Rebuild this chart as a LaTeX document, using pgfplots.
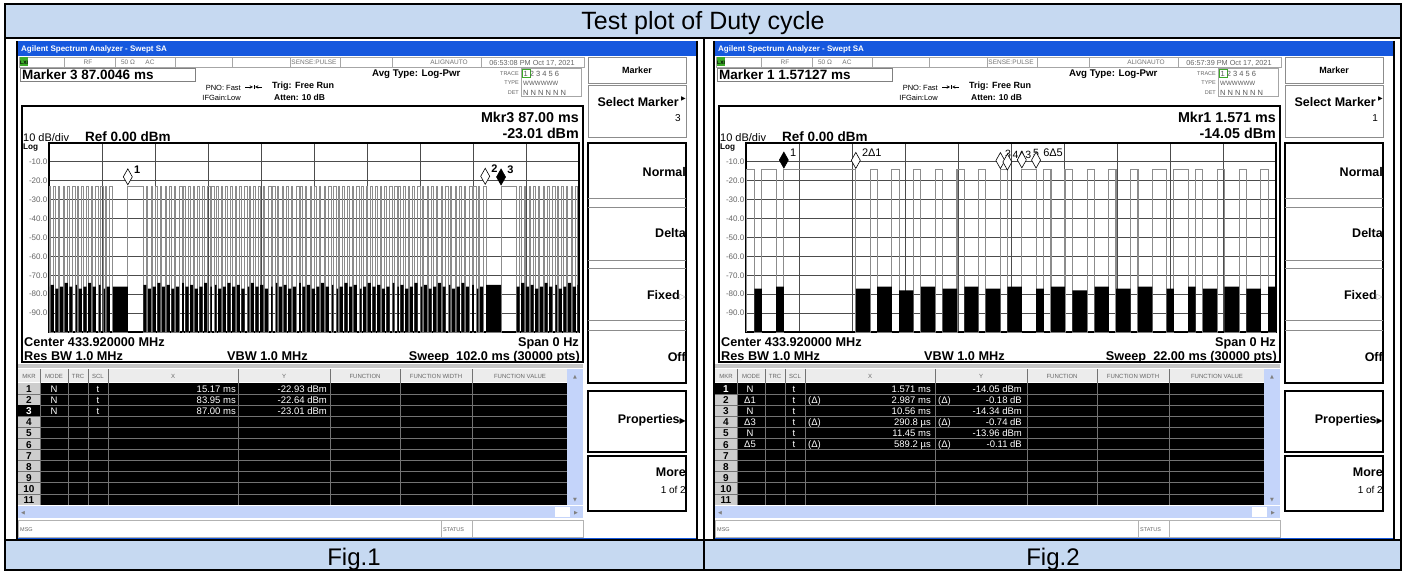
\documentclass[border=0pt]{standalone}
\usepackage{pgfplots}
\pgfplotsset{compat=1.18}
\usepackage{pgfplotstable}
\usepackage{fontspec}
\setmainfont{Liberation Sans}
\newfontfamily\dejavu{DejaVu Sans}
\newcommand{\fs}[1]{\fontsize{#1}{#1}\selectfont}
\definecolor{capblue}{RGB}{198,217,241}
\definecolor{xpblue}{RGB}{22,88,222}
\definecolor{sbblue}{RGB}{196,212,250}
\definecolor{hdrgray}{RGB}{236,236,236}
\definecolor{mkrgray}{RGB}{205,205,205}
\definecolor{lxigreen}{RGB}{60,170,40}

\pgfdeclareplotmark{mkr}{%
 \pgfpathmoveto{\pgfqpoint{0pt}{1.5pt}}%
 \pgfpathlineto{\pgfqpoint{4.5pt}{9.5pt}}%
 \pgfpathlineto{\pgfqpoint{0pt}{17.5pt}}%
 \pgfpathlineto{\pgfqpoint{-4.5pt}{9.5pt}}%
 \pgfpathclose\pgfusepathqfillstroke}

\tikzset{t/.style={inner sep=0pt, anchor=mid west},
 tr/.style={inner sep=0pt, anchor=mid east},
 tc/.style={inner sep=0pt, anchor=mid},
 fz/.style={font=\fs{#1}, yshift={(2.15-0.358*#1)*1pt}},
 fzb/.style={font=\fs{#1}\bfseries, yshift={(2.15-0.358*#1)*1pt}}}

\pgfplotsset{sa/.style={
  scale only axis, width=530pt, height=189pt, anchor=south west,
  ymin=-100, ymax=0,
  ytick={-90,-80,-70,-60,-50,-40,-30,-20,-10},
  yticklabels={-90.0,-80.0,-70.0,-60.0,-50.0,-40.0,-30.0,-20.0,-10.0},
  yticklabel style={font=\fs{8}, text=black!60, inner sep=1.5pt},
  xticklabels=\empty,
  major tick length=0pt,
  grid=major,
  major grid style={draw=black!70, line width=0.9pt},
  axis line style={line width=1.8pt},
 }}

% Fig.1 trace: t = time (ms), p = pulse level (dBm), n = noise-floor top (dBm)
\pgfplotstableread{
t p n
0.00 -100 -100
0.00 -100 -76
0.02 -23 -100
0.31 -100 -75
0.92 -23 -100
1.21 -100 -77
1.82 -23 -100
2.11 -100 -76
2.72 -23 -100
3.01 -100 -74
3.62 -23 -100
3.91 -100 -76
4.52 -23 -100
5.11 -100 -75
5.42 -23 -100
5.71 -100 -77
6.32 -23 -100
6.61 -100 -76
7.22 -23 -100
7.51 -100 -74
8.12 -23 -100
8.41 -100 -76
9.02 -23 -100
9.61 -100 -75
9.92 -23 -100
10.51 -100 -77
10.82 -23 -100
11.11 -100 -76
11.72 -23 -100
12.31 -100 -76
15.17 -23 -100
18.16 -100 -75
18.75 -23 -100
19.04 -100 -77
19.65 -23 -100
19.94 -100 -76
20.55 -23 -100
20.84 -100 -74
21.45 -23 -100
21.74 -100 -76
22.35 -23 -100
22.64 -100 -75
23.25 -23 -100
23.54 -100 -77
24.15 -23 -100
24.44 -100 -76
25.05 -23 -100
25.64 -100 -74
25.95 -23 -100
26.24 -100 -76
26.85 -23 -100
27.14 -100 -75
27.75 -23 -100
28.04 -100 -77
28.65 -23 -100
28.94 -100 -76
29.55 -23 -100
29.84 -100 -74
30.45 -23 -100
31.04 -100 -76
31.35 -23 -100
31.94 -100 -75
32.25 -23 -100
32.54 -100 -77
33.15 -23 -100
33.44 -100 -76
34.05 -23 -100
34.34 -100 -74
34.95 -23 -100
35.24 -100 -76
35.85 -23 -100
36.14 -100 -75
36.75 -23 -100
37.04 -100 -77
37.65 -23 -100
38.24 -100 -76
38.55 -23 -100
38.84 -100 -74
39.45 -23 -100
39.74 -100 -76
40.35 -23 -100
40.64 -100 -75
41.25 -23 -100
41.54 -100 -77
42.15 -23 -100
42.74 -100 -76
43.05 -23 -100
43.64 -100 -74
43.95 -23 -100
44.24 -100 -76
44.85 -23 -100
45.14 -100 -75
45.75 -23 -100
46.04 -100 -77
46.65 -23 -100
46.94 -100 -76
47.55 -23 -100
48.14 -100 -74
48.45 -23 -100
48.74 -100 -76
49.35 -23 -100
49.64 -100 -75
50.25 -23 -100
50.54 -100 -77
51.15 -23 -100
51.44 -100 -76
52.05 -23 -100
52.34 -100 -74
52.95 -23 -100
53.24 -100 -76
53.85 -23 -100
54.44 -100 -75
54.75 -23 -100
55.34 -100 -77
55.65 -23 -100
55.94 -100 -76
56.55 -23 -100
56.84 -100 -74
57.45 -23 -100
57.74 -100 -76
58.35 -23 -100
58.64 -100 -75
59.25 -23 -100
59.84 -100 -77
60.15 -23 -100
60.44 -100 -76
61.05 -23 -100
61.34 -100 -74
61.95 -23 -100
62.24 -100 -76
62.85 -23 -100
63.14 -100 -75
63.75 -23 -100
64.04 -100 -77
64.65 -23 -100
64.94 -100 -76
65.55 -23 -100
66.14 -100 -74
66.45 -23 -100
67.04 -100 -76
67.35 -23 -100
67.64 -100 -75
68.25 -23 -100
68.54 -100 -77
69.15 -23 -100
69.44 -100 -76
70.05 -23 -100
70.34 -100 -74
70.95 -23 -100
71.54 -100 -76
71.85 -23 -100
72.14 -100 -75
72.75 -23 -100
73.04 -100 -77
73.65 -23 -100
73.94 -100 -76
74.55 -23 -100
74.84 -100 -74
75.45 -23 -100
75.74 -100 -76
76.35 -23 -100
76.94 -100 -75
77.25 -23 -100
77.54 -100 -77
78.15 -23 -100
78.44 -100 -76
79.05 -23 -100
79.34 -100 -74
79.95 -23 -100
80.24 -100 -76
80.85 -23 -100
81.44 -100 -75
81.75 -23 -100
82.34 -100 -77
82.65 -23 -100
82.94 -100 -76
83.55 -23 -100
84.14 -100 -75
87.00 -23 -100
89.99 -100 -76
90.58 -23 -100
90.87 -100 -74
91.48 -23 -100
91.77 -100 -76
92.38 -23 -100
92.67 -100 -75
93.28 -23 -100
93.57 -100 -77
94.18 -23 -100
94.47 -100 -76
95.08 -23 -100
95.37 -100 -74
95.98 -23 -100
96.27 -100 -76
96.88 -23 -100
97.47 -100 -75
97.78 -23 -100
98.07 -100 -77
98.68 -23 -100
98.97 -100 -76
99.58 -23 -100
99.87 -100 -74
100.48 -23 -100
100.77 -100 -76
101.38 -23 -100
101.67 -100 -75
102.00 -100 -100
}\figA

% Fig.2 trace
\pgfplotstableread{
t p n
0.00 -100 -100
0.00 -14 -100
0.35 -100 -77
0.66 -14 -100
1.25 -100 -76
1.57 -14 -100
4.56 -100 -77
5.15 -14 -100
5.44 -100 -76
6.05 -14 -100
6.36 -100 -78
6.95 -14 -100
7.26 -100 -76
7.85 -14 -100
8.16 -100 -77
8.76 -14 -100
9.06 -100 -76
9.65 -14 -100
9.95 -100 -77
10.56 -14 -100
10.85 -100 -76
11.45 -14 -100
12.04 -100 -77
12.36 -14 -100
12.66 -100 -76
13.24 -14 -100
13.55 -100 -78
14.16 -14 -100
14.47 -100 -76
15.06 -14 -100
15.36 -100 -77
15.96 -14 -100
16.27 -100 -76
16.87 -14 -100
17.46 -100 -77
17.76 -14 -100
18.35 -100 -76
18.66 -14 -100
18.96 -100 -77
19.56 -14 -100
19.86 -100 -76
20.47 -14 -100
20.77 -100 -77
21.37 -14 -100
21.67 -100 -76
22.00 -100 -100
}\figB

\newcommand{\rowh}{11.09}

% common frame of one analyser screenshot (pixel coordinates, y downwards)
\newcommand{\panelframe}{%
 \fill[white] (17,41) rectangle (697,539);
 \fill[xpblue] (17,41) rectangle (697,56);
 \draw[line width=2pt] (17,41) -- (17,539);
 \draw[line width=2pt] (697,41) -- (697,539);
 \draw[xpblue, line width=1.5pt] (18,538.5) -- (696,538.5);
 % status row
 \draw[black!35, line width=0.5pt] (19,57) rectangle (584,67);
 \foreach \xx in {64,115,175,232,290,340,392,481}
   \draw[black!35, line width=0.5pt] (\xx,57) -- (\xx,67);
 \fill[lxigreen] (19.5,57.5) rectangle (28,66.5);
 \node[t, fzb=5] at (20,62) {LXI};
 \node[tc, fz=6.5, text=black!55] at (88,62) {RF};
 \node[tc, fz=6.5, text=black!55] at (128,62) {50 Ω};
 \node[tc, fz=6.5, text=black!55] at (150,62) {AC};
 \node[tc, fz=6.5, text=black!55] at (314,62) {SENSE:PULSE};
 \node[tc, fz=6.5, text=black!55] at (449,62) {ALIGNAUTO};
 % marker box
 \draw[black!50, line width=0.6pt] (20,68) rectangle (195,81);
 % header info
 \node[t, fzb=9.7] at (372,73) {Avg Type: Log-Pwr};
 \node[tr, fz=7.5] at (241,87) {PNO: Fast};
 \draw[line width=0.5pt, -stealth] (245,87) -- (253,87);
 \draw[line width=0.5pt, -stealth] (262,87) -- (255,87);
 \draw[line width=0.5pt] (254,85) -- (254,89);
 \node[tr, fz=7.5] at (241,97) {IFGain:Low};
 \node[t, fzb=9] at (272,85) {Trig: Free Run};
 \node[t, fzb=8.5] at (274,97) {Atten: 10 dB};
 \node[tr, fz=5.5, text=black!60] at (519,73) {TRACE};
 \node[tr, fz=5.5, text=black!60] at (519,82.5) {TYPE};
 \node[tr, fz=5.5, text=black!60] at (519,92) {DET};
 \draw[black!35, line width=0.5pt] (521,68.5) rectangle (581,96.5);
 \draw[lxigreen, line width=0.6pt] (522,69) rectangle (530,77);
 \node[t, fz=7.5, text=black!65] at (523.5,73) {1 2 3 4 5 6};
 \node[t, fz=6.2, text=black!65] at (523,82.5) {WWWWWW};
 \node[t, fz=7.5, text=black!65] at (523,92) {N N N N N N};
 % graph box
 \draw[line width=1.8pt] (22,106) rectangle (583,362);
 \fill[black!22] (18,364) rectangle (583,368);
 \node[t, fz=11] at (23,137) {10 dB/div};
 \node[t, fzb=13.5] at (85,136) {Ref 0.00 dBm};
 \node[t, fzb=8.2] at (23,146) {Log};
 \node[t, fzb=12.7] at (24,341) {Center 433.920000 MHz};
 \node[t, fzb=12.7] at (24,355) {Res BW 1.0 MHz};
 \node[t, fzb=12.7] at (227,355) {VBW 1.0 MHz};
 \node[tr, fzb=12.7] at (579,341) {Span 0 Hz};
 % soft keys
 \draw[black!45, line width=0.7pt] (588,57) rectangle (686,83);
 \draw[black!45, line width=0.7pt] (588,85) rectangle (686,137);
 \draw[line width=1.4pt] (588,143) rectangle (686,383);
 \foreach \yy in {198,207,260,268,320,330}
   \draw[black!45, line width=0.7pt] (588,\yy) -- (686,\yy);
 \draw[line width=1.4pt] (588,391) rectangle (686,452);
 \draw[line width=1.4pt] (588,456) rectangle (686,511);
 \node[tc, fzb=9] at (637,70) {Marker};
 \node[tr, fzb=12.5] at (679,102) {Select Marker};
 \node[tc, fz=6, font=\fs{6}\dejavu] at (683.5,98) {▶};
 \node[tr, fzb=12.5] at (686,172) {Normal};
 \node[tr, fzb=12.5] at (686,233) {Delta};
 \node[tr, fzb=12.5] at (686,295) {Fixed{\dejavu\fs{8}\color{black!40}▷}};
 \node[tr, fzb=12.5] at (686,357) {Off};
 \node[tr, fzb=12.5] at (686,419) {Properties{\dejavu\fs{8}▶}};
 \node[tr, fzb=12.5] at (686,472) {More};
 \node[tr, fz=10] at (686,489) {1 of 2};
 % marker table
 \fill[hdrgray] (18,369) rectangle (583,382);
 \fill[black] (18,383) rectangle (567,505);
 \fill[mkrgray] (18,383) rectangle (40,505);
 \foreach \k in {1,...,10}
   \draw[black!55, line width=0.8pt] (18,{383+\k*\rowh}) -- (567,{383+\k*\rowh});
 \foreach \xx in {40,68,88,108,238,330,400,472}
   \draw[black!55, line width=0.8pt] (\xx,369) -- (\xx,505);
 \foreach \xx/\lab in {29/MKR,54/MODE,78/TRC,98/SCL,173/X,284/Y,365/FUNCTION,436/FUNCTION WIDTH,520/FUNCTION VALUE}
   \node[tc, fz=6, text=black!60] at (\xx,376) {\lab};
 \foreach \k in {1,...,11}
   \node[tc, fzb=10] at (29,{383+(\k-0.5)*\rowh}) {\k};
 \fill[sbblue] (567,369) rectangle (583,505);
 \node[tc, fz=5, font=\fs{5}\dejavu, text=black!50] at (575,376) {▲};
 \node[tc, fz=5, font=\fs{5}\dejavu, text=black!50] at (575,499) {▼};
 \fill[sbblue] (18,506) rectangle (583,518);
 \fill[white] (555,507) rectangle (570,517);
 \node[tc, fz=5, font=\fs{5}\dejavu, text=black!50] at (23,512) {◀};
 \node[tc, fz=5, font=\fs{5}\dejavu, text=black!50] at (576,512) {▶};
 \draw[black!30, line width=0.6pt] (18,520) rectangle (583,537);
 \draw[black!30, line width=0.6pt] (441,520) -- (441,537);
 \draw[black!30, line width=0.6pt] (472,520) -- (472,537);
 \node[t, fz=5.5, text=black!60] at (20,529) {MSG};
 \node[t, fz=5.5, text=black!60] at (443,529) {STATUS};
}

\newcommand{\selrow}[1]{%
 \fill[black] (18,{383+(#1-1)*\rowh}) rectangle (40,{383+#1*\rowh});
 \node[tc, fzb=10, text=white] at (29,{383+(#1-0.5)*\rowh}) {#1};
}

\tikzset{cell/.style={inner sep=0pt, fz=9.5, text=white}}

\begin{document}
\begin{tikzpicture}
\useasboundingbox (0,0) rectangle (1406pt,-572pt);
\begin{scope}[x=1pt,y=-1pt]
 \fill[capblue] (5,4) rectangle (1401,37);
 \fill[capblue] (5,541) rectangle (1401,570);
 \draw[line width=1.2pt] (5,4) rectangle (1401,570);
 \draw[line width=1.2pt] (5,38) -- (1401,38);
 \draw[line width=1.2pt] (5,540) -- (1401,540);
 \draw[line width=1.2pt] (704,38) -- (704,570);
 \node[tc, fz=25] at (703,20) {Test plot of Duty cycle};
 \node[tc, fz=24] at (354,556) {Fig.1};
 \node[tc, fz=24] at (1053,556) {Fig.2};
 % ---------- panel 1 ----------
 \panelframe
 \node[t, fzb=8, text=white] at (21,48.5) {Agilent Spectrum Analyzer - Swept SA};
 \node[tc, fz=7.3, text=black!60] at (532,62) {06:53:08 PM Oct 17, 2021};
 \node[t, fzb=13.5] at (22,74.5) {Marker 3 87.0046 ms};
 \node[tr, fzb=14.3] at (579,117) {Mkr3 87.00 ms};
 \node[tr, fzb=14.3] at (579,133) {-23.01 dBm};
 \node[tr, fzb=12.7] at (580,355) {Sweep\ \ 102.0 ms (30000 pts)};
 \node[tr, fz=10] at (681,117) {3};
 \selrow{3}
 \foreach \k/\xv/\yv in {1/15.17 ms/-22.93 dBm, 2/83.95 ms/-22.64 dBm, 3/87.00 ms/-23.01 dBm}{
   \node[cell, anchor=mid] at (54,{383+(\k-0.5)*\rowh}) {N};
   \node[cell, anchor=mid] at (98,{383+(\k-0.5)*\rowh}) {t};
   \node[cell, anchor=mid east] at (236,{383+(\k-0.5)*\rowh}) {\xv};
   \node[cell, anchor=mid east] at (327,{383+(\k-0.5)*\rowh}) {\yv};
 }
 % ---------- panel 2 ----------
 \begin{scope}[xshift=697pt]
 \panelframe
 \node[t, fzb=8, text=white] at (21,48.5) {Agilent Spectrum Analyzer - Swept SA};
 \node[tc, fz=7.3, text=black!60] at (532,62) {06:57:39 PM Oct 17, 2021};
 \node[t, fzb=13.5] at (22,74.5) {Marker 1 1.57127 ms};
 \node[tr, fzb=14.3] at (579,117) {Mkr1 1.571 ms};
 \node[tr, fzb=14.3] at (579,133) {-14.05 dBm};
 \node[tr, fzb=12.7] at (580,355) {Sweep\ \ 22.00 ms (30000 pts)};
 \node[tr, fz=10] at (681,117) {1};
 \selrow{1}
 \foreach \k/\md/\dx/\xv/\yv in {1/N//1.571 ms/-14.05 dBm, 2/Δ1/(Δ)/2.987 ms/-0.18 dB, 3/N//10.56 ms/-14.34 dBm, 4/Δ3/(Δ)/290.8 µs/-0.74 dB, 5/N//11.45 ms/-13.96 dBm, 6/Δ5/(Δ)/589.2 µs/-0.11 dB}{
   \node[cell, anchor=mid] at (53,{383+(\k-0.5)*\rowh}) {\md};
   \node[cell, anchor=mid] at (97,{383+(\k-0.5)*\rowh}) {t};
   \node[cell, anchor=mid west] at (111,{383+(\k-0.5)*\rowh}) {\dx};
   \node[cell, anchor=mid east] at (234,{383+(\k-0.5)*\rowh}) {\xv};
   \node[cell, anchor=mid west] at (241,{383+(\k-0.5)*\rowh}) {\dx};
   \node[cell, anchor=mid east] at (325,{383+(\k-0.5)*\rowh}) {\yv};
 }
 \end{scope}
\end{scope}

% ---------- Fig.1 trace ----------
\begin{axis}[sa, at={(49pt,-332pt)}, xmin=0, xmax=102,
  xtick={10.2,20.4,30.6,40.8,51,61.2,71.4,81.6,91.8}]
 \addplot[const plot, draw=black!45, line width=1pt] table[x=t, y=p] {\figA};
 \addplot[const plot, fill=black, draw=none] table[x=t, y=n] {\figA};
 \addplot[only marks, mark=mkr, mark options={fill=white, draw=black, line width=0.6pt}]
   coordinates {(15.17,-22.93) (83.95,-22.64)};
 \addplot[only marks, mark=mkr, mark options={fill=black, draw=black, line width=0.6pt}]
   coordinates {(87.00,-23.01)};
 \node[anchor=base west, inner sep=0pt, font=\fs{11}\bfseries, xshift=6pt, yshift=13pt] at (axis cs:15.17,-22.93) {1};
 \node[anchor=base west, inner sep=0pt, font=\fs{11}\bfseries, xshift=6pt, yshift=13pt] at (axis cs:83.95,-22.64) {2};
 \node[anchor=base west, inner sep=0pt, font=\fs{11}\bfseries, xshift=6pt, yshift=13pt] at (axis cs:87.00,-23.01) {3};
\end{axis}

% ---------- Fig.2 trace ----------
\begin{axis}[sa, at={(746pt,-332pt)}, xmin=0, xmax=22,
  xtick={2.2,4.4,6.6,8.8,11,13.2,15.4,17.6,19.8}]
 \addplot[const plot, draw=black!45, line width=1.1pt] table[x=t, y=p] {\figB};
 \addplot[const plot, fill=black, draw=none] table[x=t, y=n] {\figB};
 \addplot[only marks, mark=mkr, mark options={fill=white, draw=black, line width=0.6pt}]
   coordinates {(4.558,-14.23) (10.56,-14.34) (10.85,-15.08) (11.45,-13.96) (12.04,-14.07)};
 \addplot[only marks, mark=mkr, mark options={fill=black, draw=black, line width=0.6pt}]
   coordinates {(1.571,-14.05)};
 \node[anchor=base west, inner sep=0pt, font=\fs{11}, xshift=6pt, yshift=13pt] at (axis cs:1.571,-14.05) {1};
 \node[anchor=base west, inner sep=0pt, font=\fs{11}, xshift=6pt, yshift=13pt] at (axis cs:4.558,-14.23) {2Δ1};
 \node[anchor=base west, inner sep=0pt, font=\fs{10.5}, xshift=4.5pt, yshift=13pt] at (axis cs:10.56,-14.34) {3};
 \node[anchor=base west, inner sep=0pt, font=\fs{10.5}, xshift=5pt, yshift=13pt] at (axis cs:10.85,-15.08) {4Δ3};
 \node[anchor=base west, inner sep=0pt, font=\fs{10.5}, xshift=11pt, yshift=13pt] at (axis cs:11.45,-13.96) {5};
 \node[anchor=base west, inner sep=0pt, font=\fs{11}, xshift=7pt, yshift=13pt] at (axis cs:12.04,-14.07) {6Δ5};
\end{axis}
\end{tikzpicture}
\end{document}
